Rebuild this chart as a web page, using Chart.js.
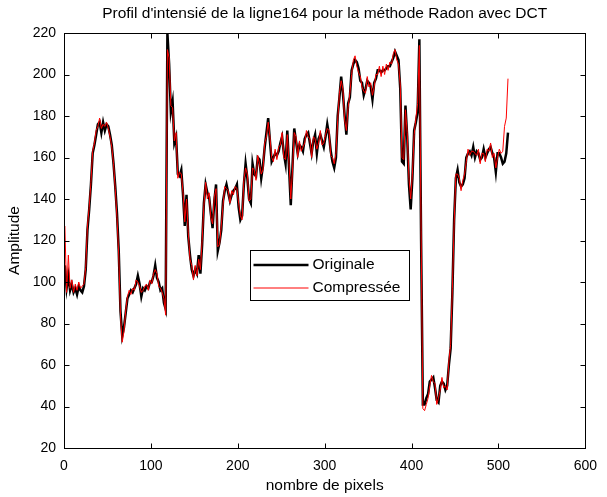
<!DOCTYPE html>
<html>
<head>
<meta charset="utf-8">
<title>Profil d'intensité</title>
<script src="https://cdn.jsdelivr.net/npm/chart.js@4/dist/chart.umd.min.js"></script>
<style>
  html, body { margin: 0; padding: 0; background: #fff; }
  #wrap { width: 607px; height: 497px; }
</style>
</head>
<body>
<div id="wrap"><canvas id="profilChart" width="607" height="497"></canvas></div>
<script>
// pixel index of the first sample and spacing between read samples
const firstPixel = 1;
const pixelStep = 2;

// line 164 profile, values read every 2 pixels
const originale = [
    108, 97, 103, 96, 99, 95, 97, 94, 98, 96, 95, 98, 106, 125, 135, 147,
    162, 166, 171, 176, 177, 172, 177, 173, 176, 175, 171, 166, 157, 146, 133, 115,
    86, 74, 78, 85, 92, 94, 96, 95, 97, 99, 103, 99, 93, 97, 96, 98,
    97, 100, 100, 103, 108, 102, 100, 96, 97, 90, 87, 220, 205, 182, 187, 167,
    170, 152, 151, 154, 142, 127, 142, 122, 113, 106, 103, 106, 104, 113, 104, 118,
    138, 147, 143, 141, 133, 126, 139, 147, 115, 119, 125, 139, 144, 147, 143, 139,
    142, 144, 145, 147, 136, 130, 132, 147, 157, 150, 140, 138, 157, 152, 151, 160,
    159, 150, 156, 165, 172, 179, 168, 158, 160, 162, 161, 163, 167, 170, 162, 157,
    173, 155, 137, 156, 174, 168, 162, 166, 165, 163, 169, 171, 172, 167, 162, 168,
    171, 162, 169, 171, 168, 165, 170, 176, 171, 163, 158, 155, 160, 180, 189, 199,
    191, 180, 171, 186, 189, 202, 205, 207, 206, 203, 197, 196, 190, 193, 197, 196,
    194, 188, 196, 198, 202, 202, 201, 202, 202, 203, 204, 204, 206, 208, 211, 209,
    207, 193, 158, 157, 185, 170, 147, 135, 150, 173, 177, 182, 217, 120, 41, 41,
    44, 46, 52, 53, 54, 49, 43, 42, 50, 52, 51, 48, 50, 60, 68, 95,
    130, 150, 154, 148, 146, 147, 150, 160, 162, 163, 161, 165, 160, 163, 162, 159,
    160, 164, 160, 162, 164, 165, 162, 160, 153, 162, 162, 160, 157, 158, 162, 172
];

const compressee = [
    127, 95, 113, 97, 101, 95, 99, 96, 100, 97, 98, 99, 107, 127, 136, 148,
    163, 167, 173, 175, 179, 174, 176, 175, 177, 174, 170, 165, 157, 145, 131, 113,
    84, 71, 76, 86, 93, 96, 94, 97, 96, 101, 100, 98, 95, 96, 98, 99,
    96, 101, 99, 104, 106, 104, 98, 97, 95, 92, 84, 212, 208, 185, 184, 168,
    172, 150, 153, 152, 143, 129, 140, 124, 111, 108, 101, 108, 103, 111, 106, 120,
    137, 148, 140, 143, 131, 128, 141, 145, 117, 118, 127, 137, 146, 145, 144, 138,
    144, 142, 146, 145, 138, 132, 130, 149, 155, 152, 139, 140, 155, 154, 149, 161,
    157, 152, 154, 167, 170, 177, 170, 160, 158, 164, 159, 165, 166, 172, 160, 159,
    171, 157, 140, 154, 172, 170, 160, 168, 163, 165, 167, 173, 170, 169, 160, 170,
    169, 164, 167, 173, 166, 167, 171, 174, 173, 161, 160, 157, 162, 178, 191, 197,
    193, 178, 173, 184, 191, 200, 207, 209, 204, 201, 199, 194, 192, 191, 199, 194,
    196, 190, 194, 200, 200, 204, 199, 204, 200, 205, 202, 206, 205, 210, 212, 207,
    205, 195, 160, 159, 183, 172, 150, 140, 152, 171, 179, 186, 214, 125, 39, 38,
    41, 44, 50, 55, 52, 51, 41, 44, 48, 54, 49, 50, 48, 62, 70, 97,
    128, 152, 152, 150, 144, 149, 152, 158, 164, 161, 163, 163, 162, 161, 164, 157,
    162, 162, 158, 164, 163, 167, 160, 162, 155, 160, 164, 162, 163, 175, 179, 198
];

const xTicks = [0, 100, 200, 300, 400, 500, 600];
const yTicks = [20, 40, 60, 80, 100, 120, 140, 160, 180, 200, 220];

const chartTitle = "Profil d'intensié de la ligne164 pour la méthode Radon avec DCT";
const fontFamily = '"Liberation Sans", Arial, sans-serif';

function toPoints(values) {
    return values.map((v, i) => ({ x: firstPixel + i * pixelStep, y: v }));
}

// matlab-like frame: box, inward ticks on 4 sides, title and boxed legend
const matlabFrame = {
    id: 'matlabFrame',
    afterDraw(chart) {
        const ctx = chart.ctx;
        const a = chart.chartArea;
        const xs = chart.scales.x;
        const ys = chart.scales.y;
        const L = Math.round(a.left) + 0.5, R = Math.round(a.right) + 0.5;
        const T = Math.round(a.top) + 0.5, B = Math.round(a.bottom) + 0.5;
        ctx.save();
        ctx.strokeStyle = '#000';
        ctx.lineWidth = 1;
        ctx.strokeRect(L, T, R - L, B - T);

        ctx.beginPath();
        xs.ticks.forEach(t => {
            const px = Math.round(xs.getPixelForValue(t.value)) + 0.5;
            ctx.moveTo(px, B); ctx.lineTo(px, B - 5);
            ctx.moveTo(px, T); ctx.lineTo(px, T + 5);
        });
        ys.ticks.forEach(t => {
            const py = Math.round(ys.getPixelForValue(t.value)) + 0.5;
            ctx.moveTo(L, py); ctx.lineTo(L + 5, py);
            ctx.moveTo(R, py); ctx.lineTo(R - 5, py);
        });
        ctx.stroke();

        // title
        ctx.fillStyle = '#000';
        ctx.font = '15.5px ' + fontFamily;
        ctx.textAlign = 'center';
        ctx.textBaseline = 'middle';
        ctx.fillText(chartTitle, (a.left + a.right) / 2, 14);

        // legend box
        const bx = Math.round(a.left + 186) + 0.5;
        const by = Math.round(a.top + 217) + 0.5;
        ctx.fillStyle = '#fff';
        ctx.fillRect(bx, by, 159, 50);
        ctx.strokeRect(bx, by, 159, 50);
        ctx.textAlign = 'left';
        chart.data.datasets.forEach((ds, i) => {
            const ly = Math.round(by + 14 + i * 23);
            ctx.beginPath();
            ctx.strokeStyle = ds.borderColor;
            ctx.lineWidth = ds.borderWidth;
            ctx.moveTo(bx + 3, ly);
            ctx.lineTo(bx + 58, ly);
            ctx.stroke();
            ctx.fillStyle = '#000';
            ctx.fillText(ds.label, bx + 62, ly);
        });
        ctx.restore();
    }
};

const ctx = document.getElementById('profilChart').getContext('2d');

const profilChart = new Chart(ctx, {
    type: 'line',
    data: {
        datasets: [
            {
                label: 'Originale',
                data: toPoints(originale),
                borderColor: '#000',
                borderWidth: 2.5,
                pointRadius: 0,
                tension: 0,
                order: 2
            },
            {
                label: 'Compressée',
                data: toPoints(compressee),
                borderColor: '#ff0000',
                borderWidth: 1,
                pointRadius: 0,
                tension: 0,
                order: 1
            }
        ]
    },
    options: {
        responsive: false,
        animation: false,
        layout: { padding: { left: 0, top: 33, right: 15, bottom: 0 } },
        plugins: {
            legend: { display: false },
            tooltip: { enabled: false }
        },
        scales: {
            x: {
                type: 'linear',
                min: 0,
                max: 600,
                afterBuildTicks: s => { s.ticks = xTicks.map(v => ({ value: v })); },
                afterFit: s => { s.height = 49; },
                grid: { display: false, drawTicks: false },
                border: { display: false },
                ticks: { color: '#000', padding: 10, font: { family: fontFamily, size: 14 } },
                title: {
                    display: true,
                    text: 'nombre de pixels',
                    color: '#000',
                    font: { family: fontFamily, size: 15.5 },
                    padding: { top: 0, bottom: 2 }
                }
            },
            y: {
                min: 20,
                max: 220,
                afterBuildTicks: s => { s.ticks = yTicks.map(v => ({ value: v })); },
                afterFit: s => { s.width = 64; },
                grid: { display: false, drawTicks: false },
                border: { display: false },
                ticks: { color: '#000', padding: 8, font: { family: fontFamily, size: 14 } },
                title: {
                    display: true,
                    text: 'Amplitude',
                    color: '#000',
                    font: { family: fontFamily, size: 15.5 },
                    padding: { top: 5, bottom: 0 }
                }
            }
        }
    },
    plugins: [matlabFrame]
});
</script>
</body>
</html>
